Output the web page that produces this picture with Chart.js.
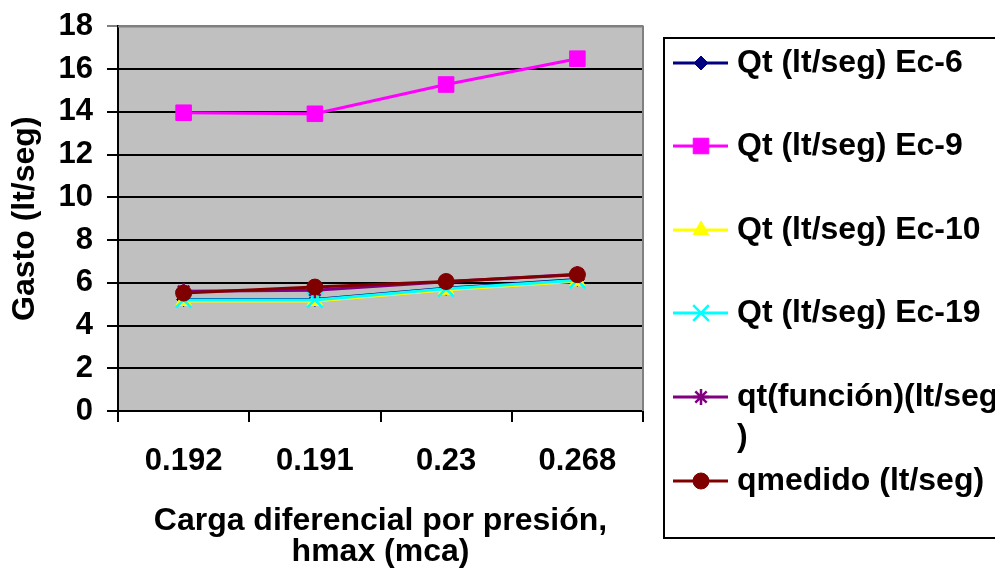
<!DOCTYPE html>
<html><head><meta charset="utf-8">
<script src="https://cdn.jsdelivr.net/npm/chart.js@4/dist/chart.umd.min.js"></script>
<style>html,body{margin:0;padding:0;background:#fff;overflow:hidden}#wrap{width:995px;height:568px;position:relative}</style>
</head><body><div id="wrap"><canvas id="c" width="995" height="568"></canvas></div>
<script>
const categories = ['0.192', '0.191', '0.23', '0.268'];
const qtEc6 = [5.22, 5.22, 5.74, 6.15];
const qtEc9 = [13.96, 13.91, 15.28, 16.49];
const qtEc10 = [5.15, 5.15, 5.67, 6.07];
const qtEc19 = [5.2, 5.2, 5.72, 6.12];
const qtFuncion = [5.6, 5.65, 6.05, 6.4];
const qMedido = [5.52, 5.8, 6.06, 6.38];
const seriesLabels = ['Qt (lt/seg) Ec-6', 'Qt (lt/seg) Ec-9', 'Qt (lt/seg) Ec-10', 'Qt (lt/seg) Ec-19', 'qt(función)(lt/seg)', 'qmedido (lt/seg)'];
const yAxisTitle = 'Gasto (lt/seg)';
const xAxisTitle = ['Carga diferencial por presión,', 'hmax (mca)'];
const yMin = 0, yMax = 18, yStep = 2;

const FONT = 'Liberation Sans, Arial, sans-serif';
const seriesData = [qtEc6, qtEc9, qtEc10, qtEc19, qtFuncion, qMedido];
const colors = ['#000080', '#FF00FF', '#FFFF00', '#00FFFF', '#800080', '#800000'];
const styles = ['rectRot', 'rect', 'triangle', 'crossRot', 'star', 'circle'];
const radii = [7, 11, 9, 11, 8, 8];

const datasets = seriesData.map((d, i) => ({
  label: seriesLabels[i],
  data: d,
  borderColor: colors[i],
  backgroundColor: colors[i],
  pointBackgroundColor: colors[i],
  pointBorderColor: colors[i],
  pointStyle: styles[i],
  pointRadius: radii[i],
  pointBorderWidth: (styles[i] === 'crossRot' || styles[i] === 'star') ? 2.5 : 1,
  borderWidth: 3,
  tension: 0,
  fill: false,
  order: seriesData.length - i
}));

const bgPlugin = {
  id: 'bg',
  beforeDraw(chart) {
    const {ctx, chartArea: a} = chart;
    ctx.save();
    ctx.fillStyle = '#fff';
    ctx.fillRect(0, 0, chart.width, chart.height);
    ctx.fillStyle = '#C0C0C0';
    ctx.fillRect(a.left, a.top, a.right - a.left, a.bottom - a.top);
    ctx.restore();
  },
  beforeDatasetsDraw(chart) {
    const {ctx, chartArea: a} = chart;
    ctx.save();
    ctx.strokeStyle = '#808080';
    ctx.lineWidth = 2;
    ctx.beginPath();
    ctx.moveTo(a.left, a.top);
    ctx.lineTo(a.right, a.top);
    ctx.lineTo(a.right, a.bottom);
    ctx.stroke();
    ctx.restore();
  }
};

const legendPlugin = {
  id: 'customLegend',
  afterDraw(chart) {
    const ctx = chart.ctx;
    ctx.save();
    ctx.strokeStyle = '#000';
    ctx.lineWidth = 2;
    ctx.strokeRect(664, 38, 340, 500);
    const rows = [63, 146, 230, 313, 397, 481];
    const textX = 737, maxW = 264;
    ctx.font = 'bold 32px ' + FONT;
    ctx.textBaseline = 'middle';
    chart.data.datasets.forEach((ds, i) => {
      const y = rows[i];
      ctx.strokeStyle = ds.borderColor;
      ctx.lineWidth = 3;
      ctx.beginPath();
      ctx.moveTo(673, y);
      ctx.lineTo(728, y);
      ctx.stroke();
      ctx.fillStyle = ds.pointBackgroundColor;
      ctx.strokeStyle = ds.pointBorderColor;
      ctx.lineWidth = ds.pointBorderWidth;
      Chart.helpers.drawPoint(ctx, {pointStyle: ds.pointStyle, radius: ds.pointRadius, rotation: 0, borderWidth: ds.pointBorderWidth}, 701, y);
      ctx.fillStyle = '#000';
      const label = ds.label;
      if (ctx.measureText(label).width <= maxW) {
        ctx.fillText(label, textX, y);
      } else {
        let k = label.length;
        while (k > 1 && ctx.measureText(label.slice(0, k)).width > maxW) k--;
        ctx.fillText(label.slice(0, k), textX, y);
        ctx.fillText(label.slice(k), textX, y + 40);
      }
    });
    ctx.restore();
  }
};

new Chart(document.getElementById('c'), {
  type: 'line',
  data: {labels: categories, datasets},
  options: {
    responsive: false,
    devicePixelRatio: 1,
    animation: false,
    layout: {padding: {left: 0, top: 25, right: 352, bottom: 0}},
    plugins: {legend: {display: false}, tooltip: {enabled: false}},
    scales: {
      x: {
        type: 'category',
        offset: true,
        grid: {offset: true, drawOnChartArea: false, drawTicks: true, tickLength: 11, color: '#000', lineWidth: 2},
        border: {color: '#000', width: 2},
        ticks: {color: '#000', font: {family: FONT, size: 31, weight: 'bold'}, padding: 21, maxRotation: 0, autoSkip: false},
        title: {display: true, text: xAxisTitle, color: '#000', font: {family: FONT, size: 32, weight: 'bold', lineHeight: 0.97}, padding: {top: 0, bottom: 0}},
        afterFit(s) { s.height = 157; }
      },
      y: {
        min: yMin, max: yMax,
        ticks: {stepSize: yStep, color: '#000', font: {family: FONT, size: 31, weight: 'bold', lineHeight: 0.8}, padding: 14},
        grid: {color: c => (c.tick && c.tick.value === yMax) ? '#808080' : '#000', lineWidth: 2, tickLength: 11, drawTicks: true},
        border: {color: '#000', width: 2},
        title: {display: true, text: yAxisTitle, color: '#000', font: {family: FONT, size: 32, weight: 'bold', lineHeight: 1.0}, padding: {top: 9, bottom: 0}},
        afterFit(s) { s.width = 118; }
      }
    }
  },
  plugins: [bgPlugin, legendPlugin]
});
</script>
</body></html>
